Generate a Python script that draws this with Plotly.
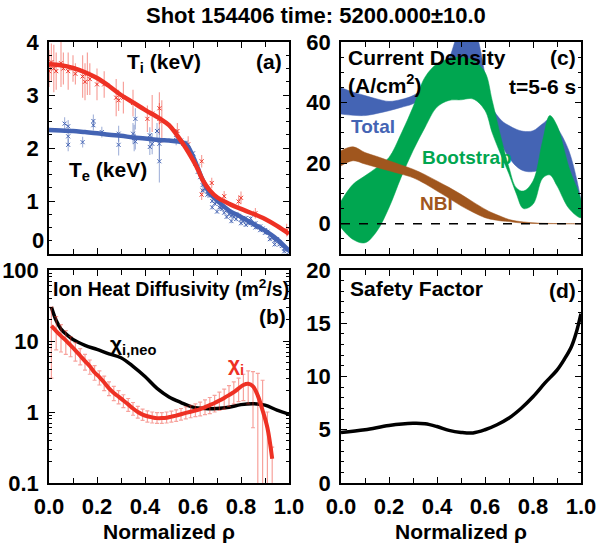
import plotly.graph_objects as go

# ---------------- data ----------------
# (a) temperature fits
rho_fit = [0.0, 0.05, 0.1, 0.15, 0.2, 0.25, 0.3, 0.35, 0.4, 0.46, 0.5, 0.54, 0.57, 0.6, 0.62, 0.64, 0.67, 0.7, 0.75, 0.8, 0.85, 0.9, 0.95, 1.0]
ti_fit = [3.58, 3.56, 3.51, 3.43, 3.32, 3.17, 3.0, 2.86, 2.72, 2.56, 2.43, 2.2, 2.0, 1.77, 1.6, 1.4, 1.2, 1.07, 0.95, 0.85, 0.76, 0.66, 0.53, 0.38]
te_fit = [2.34, 2.33, 2.32, 2.30, 2.28, 2.25, 2.23, 2.20, 2.18, 2.15, 2.14, 2.12, 2.08, 1.84, 1.62, 1.40, 1.15, 1.01, 0.82, 0.70, 0.57, 0.44, 0.28, 0.06]

ti_x = [0.0, 0.0, 0.01, 0.02, 0.03, 0.05, 0.06, 0.08, 0.10, 0.11, 0.14, 0.15, 0.16, 0.17, 0.20, 0.23, 0.28, 0.29, 0.31, 0.35, 0.41, 0.43, 0.46, 0.46, 0.47, 0.535, 0.58, 0.636, 0.636, 0.678, 0.73, 0.79, 0.80, 0.86, 0.99]
ti_y = [3.55, 3.45, 3.62, 3.50, 3.45, 3.60, 3.50, 3.45, 3.50, 3.40, 3.35, 3.25, 3.40, 3.30, 3.20, 3.20, 2.95, 2.90, 2.95, 2.85, 2.55, 2.65, 2.75, 2.55, 2.50, 2.32, 2.07, 1.75, 1.12, 1.34, 1.09, 0.99, 1.06, 0.77, 0.45]
ti_err = [0.30, 0.30, 0.35, 0.45, 0.35, 0.45, 0.30, 0.35, 0.25, 0.20, 0.40, 0.35, 0.40, 0.30, 0.30, 0.25, 0.35, 0.20, 0.30, 0.25, 0.25, 0.35, 0.30, 0.30, 0.40, 0.15, 0.15, 0.12, 0.10, 0.10, 0.10, 0.12, 0.12, 0.10, 0.12]

te_x = [0.065, 0.08, 0.08, 0.08, 0.14, 0.185, 0.185, 0.22, 0.29, 0.29, 0.35, 0.355, 0.36, 0.36, 0.42, 0.42, 0.43, 0.45, 0.46, 0.46, 0.53, 0.53,
        0.55, 0.56, 0.57, 0.58, 0.59, 0.60, 0.60, 0.61, 0.62, 0.62, 0.63, 0.64, 0.64, 0.65, 0.66, 0.66, 0.67, 0.68, 0.68, 0.69, 0.70, 0.70,
        0.71, 0.72, 0.72, 0.73, 0.74, 0.74, 0.75, 0.76, 0.76, 0.77, 0.78, 0.78, 0.79, 0.80, 0.80, 0.81, 0.82, 0.82, 0.83, 0.84, 0.84, 0.85,
        0.86, 0.86, 0.87, 0.88, 0.88, 0.89, 0.90, 0.90, 0.91, 0.92, 0.92, 0.93, 0.94, 0.94, 0.95, 0.96, 0.96, 0.97, 0.98, 0.98, 0.99, 1.00]
te_y = [2.46, 2.41, 2.22, 2.06, 2.11, 2.51, 2.43, 2.30, 2.27, 2.06, 2.27, 2.19, 2.55, 2.12, 2.24, 2.02, 2.08, 2.32, 2.08, 1.75, 2.25, 2.15,
        2.14, 2.08, 2.10, 1.98, 1.90, 1.82, 1.90, 1.70, 1.55, 1.65, 1.45, 1.30, 1.20, 1.22, 1.12, 1.18, 1.10, 1.00, 0.88, 0.95, 0.98, 0.80,
        0.88, 0.85, 0.90, 0.78, 0.82, 0.70, 0.75, 0.72, 0.62, 0.70, 0.66, 0.75, 0.72, 0.65, 0.58, 0.62, 0.68, 0.55, 0.58, 0.60, 0.67, 0.55,
        0.50, 0.58, 0.52, 0.45, 0.52, 0.48, 0.40, 0.45, 0.42, 0.35, 0.28, 0.30, 0.25, 0.18, 0.28, 0.18, 0.22, 0.15, 0.10, 0.05, 0.08, 0.04]
te_err = [0.12, 0.12, 0.15, 0.12, 0.10, 0.12, 0.10, 0.10, 0.15, 0.20, 0.20, 0.25, 0.20, 0.15, 0.15, 0.15, 0.20, 0.15, 0.30, 0.40, 0.10, 0.10] + [0.04] * 66

# (c) current density bands
rho_c = [0.0, 0.05, 0.1, 0.15, 0.2, 0.25, 0.3, 0.35, 0.4, 0.45, 0.5, 0.55, 0.6, 0.63, 0.67, 0.7, 0.73, 0.76, 0.8, 0.84, 0.87, 0.9, 0.95, 1.0]
tot_hi = [44.9, 43.5, 42.3, 41.2, 40.4, 41.0, 42.3, 45.0, 48.4, 54.6, 64.0, 64.0, 49.5, 38.5, 34.0, 32.4, 31.2, 30.5, 30.7, 33.0, 34.6, 31.8, 24.0, 7.5]
tot_lo = [36.2, 35.8, 35.7, 36.4, 37.3, 38.4, 39.6, 42.0, 45.0, 47.0, 47.0, 47.0, 42.0, 34.0, 26.0, 21.9, 19.0, 17.5, 17.2, 18.6, 30.0, 23.0, 14.0, 6.4]
bs_hi = [7.5, 13.0, 15.8, 18.6, 21.9, 29.6, 38.5, 48.4, 52.8, 54.5, 55.0, 54.0, 50.0, 40.7, 27.4, 18.6, 11.9, 10.8, 14.1, 27.4, 35.7, 32.4, 18.6, 7.5]
bs_lo = [-1.3, -5.2, -6.3, -2.4, 5.3, 15.2, 24.1, 31.8, 38.5, 40.7, 40.9, 41.2, 37.4, 30.0, 22.0, 16.4, 10.0, 5.0, 6.4, 15.0, 16.1, 12.5, 5.0, 2.0]
nbi_hi = [24.1, 25.4, 23.5, 22.2, 20.8, 19.4, 18.0, 16.2, 14.1, 12.0, 9.7, 7.2, 4.8, 3.6, 2.3, 1.4, 0.9, 0.6, 0.3, 0.15, 0.1, 0.05, 0.0, 0.0]
nbi_lo = [19.1, 20.8, 19.7, 18.6, 17.5, 16.4, 15.2, 13.2, 10.8, 8.4, 5.9, 3.8, 2.0, 1.4, 0.9, 0.7, 0.4, 0.2, 0.1, 0.05, 0.0, 0.0, 0.0, 0.0]

# (b) ion heat diffusivity
rho_neo = [0.01, 0.03, 0.05, 0.08, 0.1, 0.15, 0.2, 0.25, 0.3, 0.35, 0.4, 0.45, 0.5, 0.55, 0.6, 0.65, 0.7, 0.75, 0.8, 0.85, 0.9, 0.95, 1.0]
chi_neo = [30.0, 19.4, 14.7, 11.8, 10.5, 8.7, 7.6, 6.6, 5.8, 4.4, 3.16, 2.15, 1.63, 1.36, 1.17, 1.12, 1.12, 1.17, 1.27, 1.31, 1.25, 1.06, 0.93]
rho_chi = [0.01, 0.03, 0.05, 0.07, 0.09, 0.11, 0.13, 0.15, 0.17, 0.19, 0.21, 0.23, 0.25, 0.27, 0.29, 0.31, 0.33, 0.35, 0.37, 0.39, 0.41, 0.43, 0.45, 0.47,
           0.49, 0.51, 0.53, 0.55, 0.57, 0.59, 0.61, 0.63, 0.65, 0.67, 0.69, 0.71, 0.73, 0.75, 0.77, 0.79, 0.81, 0.83, 0.85, 0.87, 0.89, 0.91, 0.93]
chi_i = [16.3, 13.8, 11.8, 10.2, 8.7, 7.4, 6.2, 5.2, 4.4, 3.6, 3.1, 2.6, 2.15, 1.85, 1.65, 1.45, 1.28, 1.12, 1.0, 0.92, 0.87, 0.84, 0.82, 0.82,
         0.83, 0.86, 0.89, 0.93, 0.97, 1.01, 1.05, 1.1, 1.17, 1.25, 1.34, 1.45, 1.58, 1.73, 1.9, 2.15, 2.4, 2.5, 2.3, 1.7, 1.05, 0.6, 0.22]
chi_i_hi = [30, 22, 17, 14, 11.5, 9.5, 7.8, 6.5, 5.4, 4.5, 3.8, 3.2, 2.65, 2.3, 2.0, 1.75, 1.55, 1.36, 1.2, 1.1, 1.04, 1.0, 0.98, 0.98,
            1.0, 1.03, 1.07, 1.12, 1.18, 1.24, 1.3, 1.38, 1.48, 1.6, 1.72, 1.9, 2.1, 2.35, 2.65, 3.0, 3.4, 3.8, 3.7, 3.5, 2.8, 1.0, 0.32]
chi_i_lo = [3.0, 7.5, 7.0, 6.5, 6.0, 5.2, 4.6, 3.9, 3.4, 2.8, 2.4, 2.0, 1.7, 1.45, 1.3, 1.15, 1.02, 0.9, 0.82, 0.76, 0.72, 0.7, 0.69, 0.69,
            0.7, 0.72, 0.74, 0.77, 0.8, 0.83, 0.86, 0.88, 0.92, 0.95, 1.0, 1.05, 1.1, 1.2, 1.3, 1.4, 1.45, 1.3, 0.6, 0.08, 0.08, 0.08, 0.08]

# (d) safety factor
rho_q = [0.0, 0.1, 0.2, 0.3, 0.35, 0.4, 0.45, 0.5, 0.55, 0.6, 0.65, 0.7, 0.75, 0.8, 0.85, 0.9, 0.93, 0.96, 0.98, 1.0]
q = [4.75, 5.0, 5.4, 5.6, 5.56, 5.3, 4.94, 4.75, 4.7, 5.0, 5.47, 6.1, 7.0, 8.1, 9.4, 10.6, 11.6, 12.8, 14.1, 15.9]

x_ticks = [0.0, 0.2, 0.4, 0.6, 0.8, 1.0]
x_ticktext = ["0.0", "0.2", "0.4", "0.6", "0.8", "1.0"]
temp_ticks = [0, 1, 2, 3, 4]
temp_ticktext = ["", "1", "2", "3", "4"]   # the "0" label is drawn raised, as in the reference
chi_ticks = [0.1, 1, 10, 100]
chi_ticktext = ["0.1", "1", "10", "100"]

# ---------------- style ----------------
FONT = "Liberation Sans, Arial, sans-serif"
RED = "#EE3124"
RED_LIGHT = "rgba(238,49,36,0.45)"
BLUE = "#4464B4"
BLUE_LIGHT = "rgba(68,100,180,0.45)"
GREEN = "#00A650"
BROWN = "#A0561E"

fig = go.Figure()

# (a)
fig.add_trace(go.Scatter(x=ti_x, y=ti_y, mode="markers", xaxis="x", yaxis="y",
                         marker=dict(symbol="x-thin", size=4, color=RED, line=dict(width=1, color=RED)),
                         error_y=dict(type="data", array=ti_err, color=RED_LIGHT, thickness=1.2, width=0)))
fig.add_trace(go.Scatter(x=te_x, y=te_y, mode="markers", xaxis="x", yaxis="y",
                         marker=dict(symbol="x-thin", size=4, color=BLUE, line=dict(width=1, color=BLUE)),
                         error_y=dict(type="data", array=te_err, color=BLUE_LIGHT, thickness=1.2, width=0)))
fig.add_trace(go.Scatter(x=rho_fit, y=te_fit, mode="lines", xaxis="x", yaxis="y",
                         line=dict(color=BLUE, width=4.5, shape="spline")))
fig.add_trace(go.Scatter(x=rho_fit, y=ti_fit, mode="lines", xaxis="x", yaxis="y",
                         line=dict(color=RED, width=4.5, shape="spline")))

# (c)
def band(xs, hi, lo, color):
    return go.Scatter(x=list(xs) + list(xs)[::-1], y=list(hi) + list(lo)[::-1], mode="lines",
                      fill="toself", fillcolor=color, line=dict(color=color, width=0.5, shape="spline"),
                      xaxis="x2", yaxis="y2")

fig.add_trace(band(rho_c, tot_hi, tot_lo, BLUE))
fig.add_trace(band(rho_c, bs_hi, bs_lo, GREEN))
fig.add_trace(band(rho_c, nbi_hi, nbi_lo, BROWN))
fig.add_trace(go.Scatter(x=[0, 1], y=[0, 0], mode="lines", xaxis="x2", yaxis="y2",
                         line=dict(color="black", width=1.5, dash="dash")))

# (b)
fig.add_trace(go.Scatter(x=rho_neo, y=chi_neo, mode="lines", xaxis="x3", yaxis="y3",
                         line=dict(color="black", width=3.5, shape="spline")))
fig.add_trace(go.Scatter(x=rho_chi, y=chi_i, mode="lines", xaxis="x3", yaxis="y3",
                         line=dict(color=RED, width=4, shape="spline"),
                         error_y=dict(type="data", symmetric=False,
                                      array=[h - v for h, v in zip(chi_i_hi, chi_i)],
                                      arrayminus=[v - l for v, l in zip(chi_i, chi_i_lo)],
                                      color=RED_LIGHT, thickness=1.2, width=2)))

# (d)
fig.add_trace(go.Scatter(x=rho_q, y=q, mode="lines", xaxis="x4", yaxis="y4",
                         line=dict(color="black", width=3.5, shape="spline")))

# ---------------- axes ----------------
TICKFONT = dict(family=FONT, size=22, color="black", weight="bold")

def axis(**kw):
    base = dict(showline=True, linecolor="black", linewidth=1.5, mirror="allticks",
                ticks="inside", ticklen=6, tickwidth=1, tickcolor="black",
                showgrid=False, zeroline=False, tickfont=TICKFONT, automargin=False)
    base.update(kw)
    return base

L = [49 / 611, 289 / 611]
R = [341 / 611, 581 / 611]
TOP = [1 - 254 / 546, 1 - 42 / 546]
BOT = [1 - 483 / 546, 1 - 270 / 546]
xminor = dict(ticks="inside", ticklen=5, dtick=0.1, tickcolor="black")
xtitle = dict(text="Normalized ρ", font=dict(family=FONT, size=21, color="black", weight="bold"), standoff=6)

fig.update_layout(
    xaxis=axis(domain=L, anchor="y", range=[0, 1], tickvals=x_ticks, showticklabels=False, minor=xminor),
    yaxis=axis(domain=TOP, anchor="x", range=[0, 4], tickvals=temp_ticks, ticktext=temp_ticktext, ticklabelstandoff=4,
               minor=dict(ticks="inside", ticklen=3, dtick=0.25, tickcolor="black")),
    xaxis2=axis(domain=R, anchor="y2", range=[0, 1], tickvals=x_ticks, showticklabels=False, minor=xminor),
    yaxis2=axis(domain=TOP, anchor="x2", range=[-10, 60], tickvals=[0, 20, 40, 60], ticklabelstandoff=4,
                minor=dict(ticks="inside", ticklen=3, dtick=5, tickcolor="black")),
    xaxis3=axis(domain=L, anchor="y3", range=[0, 1], tickvals=x_ticks, ticktext=x_ticktext, minor=xminor,
                ticklabelstandoff=3, title=xtitle),
    yaxis3=axis(domain=BOT, anchor="x3", type="log", range=[-1, 2], tickvals=chi_ticks, ticktext=chi_ticktext,
                ticklabelstandoff=4,
                minor=dict(ticks="inside", ticklen=3, tickcolor="black",
                           tickvals=[m * d for d in (0.1, 1, 10) for m in range(2, 10)])),
    xaxis4=axis(domain=R, anchor="y4", range=[0, 1], tickvals=x_ticks, ticktext=x_ticktext, minor=xminor,
                ticklabelstandoff=3, title=xtitle),
    yaxis4=axis(domain=BOT, anchor="x4", range=[0, 20], tickvals=[0, 5, 10, 15, 20], ticklabelstandoff=4,
                minor=dict(ticks="inside", ticklen=3, dtick=1, tickcolor="black")),
    width=611, height=546, margin=dict(l=0, r=0, t=0, b=0, pad=0, autoexpand=False),
    paper_bgcolor="white", plot_bgcolor="white", showlegend=False,
    font=dict(family=FONT, color="black"),
)

def ann(text, x, y, xref, yref, xanchor="left", color="black", size=21, yanchor="middle", xshift=0):
    fig.add_annotation(text=text, x=x, y=y, xref=xref, yref=yref, xanchor=xanchor, yanchor=yanchor,
                       borderpad=0, showarrow=False, xshift=xshift,
                       font=dict(family=FONT, size=size, color=color, weight="bold"))

ann("Shot 154406 time: 5200.000±10.0", 316 / 611, 1 - 15 / 546, "paper", "paper", xanchor="center", size=22)
# raised "0" tick label of panel (a)
ann("0", 0, temp_ticks[0], "x domain", "y", xanchor="right", size=22, yanchor="bottom", xshift=-4)
# (a)
ann("T<sub>i</sub> (keV)", 0.32, 0.90, "x domain", "y domain")
ann("T<sub>e</sub> (keV)", 0.08, 0.39, "x domain", "y domain")
ann("(a)", 0.975, 0.91, "x domain", "y domain", xanchor="right")
# (c)
ann("Current Density", 0.025, 0.929, "x2 domain", "y2 domain")
ann("(A/cm<sup>2</sup>)", 0.025, 0.80, "x2 domain", "y2 domain")
ann("(c)", 0.983, 0.929, "x2 domain", "y2 domain", xanchor="right")
ann("t=5-6 s", 0.983, 0.788, "x2 domain", "y2 domain", xanchor="right")
ann("Total", 0.038, 0.60, "x2 domain", "y2 domain", color=BLUE, size=19)
ann("Bootstrap", 0.333, 0.453, "x2 domain", "y2 domain", color=GREEN, size=19)
ann("NBI", 0.325, 0.236, "x2 domain", "y2 domain", color=BROWN, size=19)
# (b)
ann("Ion Heat Diffusivity (m<sup>2</sup>/s)", 0.013, 0.915, "x3 domain", "y3 domain", size=19.5)
ann("(b)", 0.99, 0.78, "x3 domain", "y3 domain", xanchor="right")
ann("χ<sub>i,neo</sub>", 0.25, 0.65, "x3 domain", "y3 domain")
ann("χ<sub>i</sub>", 0.74, 0.555, "x3 domain", "y3 domain", color=RED)
# (d)
ann("Safety Factor", 0.033, 0.915, "x4 domain", "y4 domain")
ann("(d)", 0.983, 0.906, "x4 domain", "y4 domain", xanchor="right")

POST = (
    "var gd=document.getElementById('{plot_id}');"
    "document.documentElement.style.margin='0';document.documentElement.style.overflow='hidden';"
    "document.body.style.margin='0';document.body.style.padding='0';document.body.style.overflow='hidden';"
    "gd.style.position='fixed';gd.style.left='0px';gd.style.top='0px';"
)
fig.write_html("out.html", config={"displayModeBar": False}, post_script=POST)
